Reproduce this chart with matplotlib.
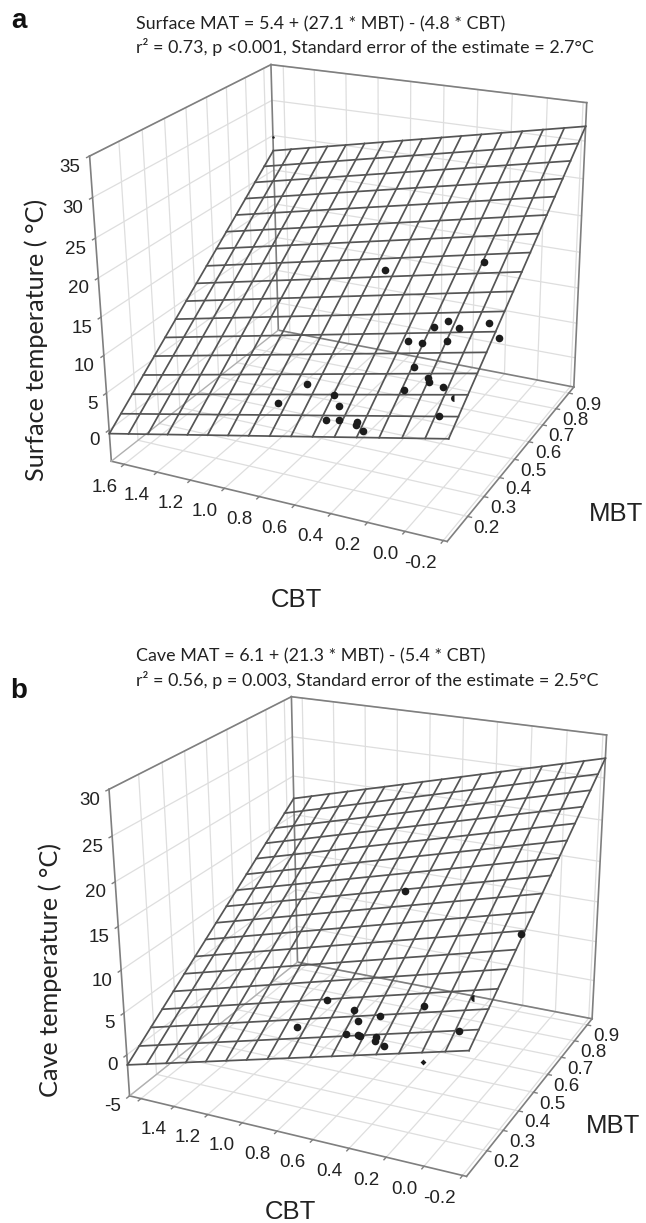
import numpy as np
import matplotlib
matplotlib.use('Agg')
import matplotlib.pyplot as plt
from mpl_toolkits.mplot3d import proj3d

W, H = 646, 1223

# axis ranges and ticks
cbt_lim_a = (1.68, -0.22)
cbt_lim_b = (1.67, -0.22)
mbt_lim = (0.08, 0.94)
temp_lim_a = (-4.3, 35)
temp_lim_b = (-5, 30)
cbt_ticks = [1.6, 1.4, 1.2, 1.0, 0.8, 0.6, 0.4, 0.2, 0.0, -0.2]
cbt_labels_a = ['1.6', '1.4', '1.2', '1.0', '0.8', '0.6', '0.4', '0.2', '0.0', '-0.2']
cbt_labels_b = ['', '1.4', '1.2', '1.0', '0.8', '0.6', '0.4', '0.2', '0.0', '-0.2']
mbt_ticks = [0.2, 0.3, 0.4, 0.5, 0.6, 0.7, 0.8, 0.9]
temp_ticks_a = [0, 5, 10, 15, 20, 25, 30, 35]
temp_ticks_b = [-5, 0, 5, 10, 15, 20, 25, 30]

# regression surfaces: intercept, MBT, CBT
coef_a = (5.4, 27.1, -4.8)
coef_b = (6.1, 21.3, -5.4)

# panel a sites
cbt_a = [0.55, 0.011, 0.06, 0.116, -0.018, -0.164, -0.253, 0.228, 0.144, 0.015, 0.127, 0.026,
         0.007, -0.073, 0.125, -0.12, 0.667, 0.78, 0.485, 0.433, 0.464, 0.395, 0.294, 0.288, 0.235]
mbt_a = [0.528, 0.541, 0.381, 0.362, 0.36, 0.374, 0.333, 0.329, 0.321, 0.327, 0.259, 0.229,
         0.218, 0.208, 0.2, 0.134, 0.215, 0.165, 0.186, 0.159, 0.124, 0.122, 0.119, 0.109, 0.096]
temp_a = [17.1, 20.0, 15.4, 14.7, 15.2, 16.3, 15.6, 13.2, 13.4, 14.2, 11.8, 11.5,
          11.3, 11.4, 10.2, 9.6, 8.0, 6.1, 8.1, 7.6, 6.5, 6.8, 7.2, 7.0, 6.9]
half_a = (-0.155, 0.181, 11.0)
stray_a = (1.741, 0.991, 23.9)

# panel b sites
cbt_b = [0.577, -0.207, 0.688, 0.497, 0.342, 0.129, 0.446, 0.772, 0.474, 0.406, 0.389, 0.301, 0.294, 0.232, -0.122]
mbt_b = [0.559, 0.395, 0.239, 0.204, 0.186, 0.206, 0.174, 0.166, 0.138, 0.134, 0.13, 0.126, 0.117, 0.101, 0.133]
temp_b = [14.9, 15.6, 7.5, 7.8, 8.2, 9.8, 7.4, 5.5, 6.5, 6.8, 6.8, 7.2, 7.0, 7.0, 9.6]
half_b = (-0.117, 0.22, 11.4)
stray_b = (-0.017, 0.054, 7.4)

BOX = '#7f7f7f'
GRID = '#dedede'
MESH = '#555555'
DOT = '#1c1c1c'
TICK = '#222222'


def seg(ax, a, b, **kw):
    ax.plot([a[0], b[0]], [a[1], b[1]], [a[2], b[2]], **kw)


def label(ax, x, y, z, s, dx, dy, **kw):
    # place a tick label a few pixels away from its projected tick
    px, py, _ = proj3d.proj_transform(x, y, z, ax.get_proj())
    ax.annotate(s, xy=(px, py), xycoords='data', xytext=(dx, dy), textcoords='offset pixels',
                annotation_clip=False, va='center', **kw)


def panel(rect, view, cbt_lim, temp_lim, temp_ticks, cbt_labels, coef, cbt, mbt, temp, half):
    ax = fig.add_axes(rect, projection='3d')
    ax.set_axis_off()
    ax.computed_zorder = False
    ax.set_xlim(cbt_lim[0], cbt_lim[1], view_margin=0)
    ax.set_ylim(mbt_lim[0], mbt_lim[1], view_margin=0)
    ax.set_zlim(temp_lim[0], temp_lim[1], view_margin=0)
    ax.view_init(view[0], view[1], view[2])
    ax.set_proj_type('persp', focal_length=view[3])
    ax.set_box_aspect((view[4], 1, view[5]))

    x0, x1 = cbt_lim
    y0, y1 = mbt_lim
    z0, z1 = temp_lim

    # light grid on the floor and the two back walls
    g = dict(color=GRID, lw=0.9, zorder=1)
    for x in cbt_ticks:
        seg(ax, (x, y0, z0), (x, y1, z0), **g)
        seg(ax, (x, y1, z0), (x, y1, z1), **g)
    for y in mbt_ticks:
        seg(ax, (x0, y, z0), (x1, y, z0), **g)
        seg(ax, (x0, y, z0), (x0, y, z1), **g)
    for z in temp_ticks:
        seg(ax, (x0, y0, z), (x0, y1, z), **g)
        seg(ax, (x0, y1, z), (x1, y1, z), **g)

    # box edges
    b = dict(color=BOX, lw=1.2, zorder=2)
    seg(ax, (x0, y0, z0), (x0, y0, z1), **b)
    seg(ax, (x0, y0, z1), (x0, y1, z1), **b)
    seg(ax, (x0, y1, z1), (x1, y1, z1), **b)
    seg(ax, (x0, y1, z0), (x0, y1, z1), **b)
    seg(ax, (x1, y1, z0), (x1, y1, z1), **b)
    seg(ax, (x0, y0, z0), (x1, y0, z0), **b)
    seg(ax, (x1, y0, z0), (x1, y1, z0), **b)
    seg(ax, (x0, y1, z0), (x1, y1, z0), **b)
    seg(ax, (x0, y0, z0), (x0, y1, z0), color='#b0b0b0', lw=1.0, zorder=2)

    # tick marks and labels
    t = dict(color=BOX, lw=1.0, zorder=2)
    txt = dict(fontsize=13.5, family='Liberation Sans', color=TICK, zorder=5)
    for x, lab in zip(cbt_ticks, cbt_labels):
        seg(ax, (x, y0, z0), (x, y0 - 0.012, z0), **t)
        if lab:
            label(ax, x, y0, z0, lab, -7, -23, ha='right', **txt)
    for y in mbt_ticks:
        seg(ax, (x1, y, z0), (x1 - 0.02, y, z0), **t)
        label(ax, x1, y, z0, f'{y:.1f}', 19, -12, ha='center', **txt)
    for z in temp_ticks:
        seg(ax, (x0, y0, z), (x0, y0 - 0.012, z), **t)
        label(ax, x0, y0, z, str(z), -9, -11, ha='right', **txt)

    # regression surface
    xs = np.linspace(x0, x1, 17)
    ys = np.linspace(y0, y1, 17)
    m = dict(color=MESH, lw=1.25, zorder=3)
    for x in xs:
        ax.plot([x, x], [y0, y1], [coef[0] + coef[1]*y0 + coef[2]*x, coef[0] + coef[1]*y1 + coef[2]*x], **m)
    for y in ys:
        ax.plot([x0, x1], [y, y], [coef[0] + coef[1]*y + coef[2]*x0, coef[0] + coef[1]*y + coef[2]*x1], **m)

    # sites
    ax.plot(cbt, mbt, temp, 'o', color=DOT, ms=5.5, mew=0, zorder=4)
    ax.plot([half[0]], [half[1]], [half[2]], 'o', color=DOT, ms=5, mew=0, fillstyle='left',
            markerfacecoloralt='none', zorder=4)
    return ax


fig = plt.figure(figsize=(W/100, H/100), dpi=100)
fig.patch.set_facecolor('white')

view_a = (22.325, -63.943, 0.57, 0.541, 1.027, 0.904)
view_b = (22.349, -64.572, 0.272, 0.532, 1.005, 0.889)
ax_a = panel([53.7/W, 645.3/H, 578.5/W, 578.5/H], view_a, cbt_lim_a, temp_lim_a, temp_ticks_a,
             cbt_labels_a, coef_a, cbt_a, mbt_a, temp_a, half_a)
ax_a.plot([stray_a[0]], [stray_a[1]], [stray_a[2]], 'o', color=DOT, ms=1.8, mew=0, zorder=4)
ax_b = panel([71.9/W, 10.8/H, 581.6/W, 581.6/H], view_b, cbt_lim_b, temp_lim_b, temp_ticks_b,
             cbt_labels_b, coef_b, cbt_b, mbt_b, temp_b, half_b)
ax_b.plot([stray_b[0]], [stray_b[1]], [stray_b[2]], 'D', color=DOT, ms=3, mew=0, zorder=4)


def put(x, y, s, **kw):
    fig.text(x/W, 1 - y/H, s, **kw)


letter = dict(fontsize=20, fontweight='bold', family='Liberation Sans', color='#111111', ha='center', va='center')
put(19, 21, 'a', **letter)
put(19, 691, 'b', **letter)

title = dict(fontsize=12.85, family='Lato', color='#222222', ha='left', va='center')
put(136, 24, 'Surface MAT = 5.4 + (27.1 * MBT) - (4.8 * CBT)', **title)
put(136, 47, 'r² = 0.73, p <0.001, Standard error of the estimate = 2.7°C', **title)
put(136, 656, 'Cave MAT = 6.1 + (21.3 * MBT) - (5.4 * CBT)', **title)
put(136, 680, 'r² = 0.56, p = 0.003, Standard error of the estimate = 2.5°C', **title)

ylab = dict(family='Lato', color='#222222', rotation=90, ha='center', va='center')
put(36, 340, 'Surface temperature ( °C)', fontsize=18.2, **ylab)
put(50, 970, 'Cave temperature ( °C)', fontsize=18.2, **ylab)

axlab = dict(fontsize=18.5, family='Liberation Sans', color='#222222', ha='center', va='center')
put(296, 600, 'CBT', **axlab)
put(616, 514, 'MBT', **axlab)
put(290, 1212, 'CBT', **axlab)
put(613, 1126, 'MBT', **axlab)

fig.savefig('out.png', dpi=100)
